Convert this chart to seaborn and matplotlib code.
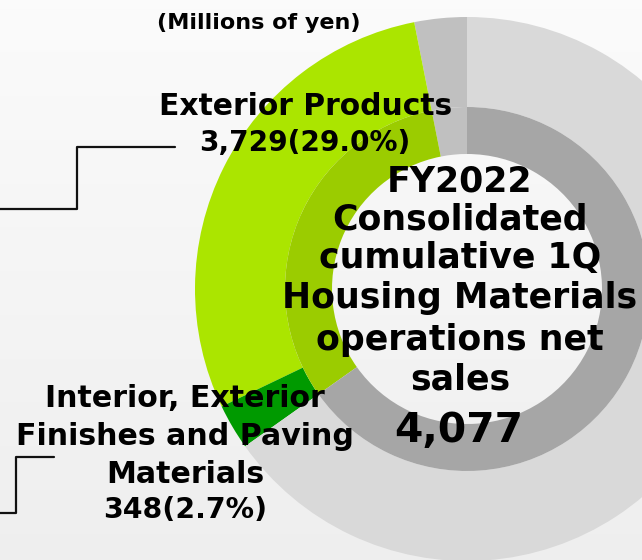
import matplotlib
matplotlib.use("Agg")
import matplotlib.pyplot as plt
import numpy as np
import seaborn as sns

# ---------------- data ----------------
outer_labels = ["Other (top)", "Exterior Products",
                "Interior, Exterior Finishes and Paving Materials", "Other businesses"]
outer_values = [400, 3729, 348, 8382]
outer_colors = ["#c0c0c0", "#abe500", "#009a00", "#d9d9d9"]

inner_labels = ["Other (top)", "Housing Materials", "Other businesses"]
inner_values = [400, 4077, 8382]
inner_colors = ["#c0c0c0", "#9bcc00", "#a6a6a6"]

unit_label = "(Millions of yen)"
ext_label = ["Exterior Products", "3,729(29.0%)"]
int_label = ["Interior, Exterior", "Finishes and Paving", "Materials", "348(2.7%)"]
center_lines = ["FY2022", "Consolidated", "cumulative 1Q", "Housing Materials",
                "operations net", "sales"]
center_value = "4,077"

# ---------------- style ----------------
sns.set_style("white")
FONT = dict(family="DejaVu Sans", fontweight="bold", color="#000000")

W, H = 642, 560
fig = plt.figure(figsize=(W / 100, H / 100), dpi=100)
ax = fig.add_axes([0, 0, 1, 1])
ax.set_xlim(0, W)
ax.set_ylim(0, H)
ax.set_aspect("equal")
ax.axis("off")

# background gradient
grad = np.linspace(0.985, 0.935, 256).reshape(-1, 1)
ax.imshow(np.dstack([grad, grad, grad]), extent=[0, W, 0, H], origin="upper",
          aspect="auto", zorder=0)

def Y(y):  # pixel-from-top -> data
    return H - y

cx, cy = 467, Y(289)
R_out, R_mid, R_in = 272, 182, 135

ax.pie(outer_values, colors=outer_colors, startangle=90, counterclock=True,
       radius=R_out, center=(cx, cy), frame=True,
       wedgeprops=dict(width=R_out - R_mid, linewidth=0, edgecolor="none"))
ax.pie(inner_values, colors=inner_colors, startangle=90, counterclock=True,
       radius=R_mid, center=(cx, cy), frame=True,
       wedgeprops=dict(width=R_mid - R_in, linewidth=0, edgecolor="none"))
ax.set_xlim(0, W)
ax.set_ylim(0, H)
ax.axis("off")

# leader lines
leader1_x = [0, 77, 77, 175]
leader1_y = [Y(209), Y(209), Y(147), Y(147)]
leader2_x = [0, 16, 16, 54]
leader2_y = [Y(513), Y(513), Y(457), Y(457)]
for lx, ly in ((leader1_x, leader1_y), (leader2_x, leader2_y)):
    sns.lineplot(x=lx, y=ly, sort=False, estimator=None, color="#111111",
                 linewidth=1.6, ax=ax, zorder=5)

# texts
ax.text(259, Y(29), unit_label, ha="center", va="baseline", fontsize=16, zorder=6, **FONT)
ax.text(306, Y(115), ext_label[0], ha="center", va="baseline", fontsize=21.4, zorder=6, **FONT)
ax.text(305, Y(151), ext_label[1], ha="center", va="baseline", fontsize=20.2, zorder=6, **FONT)

for txt, yb, fs in zip(int_label, [407, 445, 483, 518], [21.6, 21.6, 21.6, 20.4]):
    ax.text(185, Y(yb), txt, ha="center", va="baseline", fontsize=fs, zorder=6, **FONT)

for txt, yb in zip(center_lines, [192, 229, 268, 308, 350, 390]):
    ax.text(460, Y(yb), txt, ha="center", va="baseline", fontsize=25.0, zorder=6, **FONT)
ax.text(459, Y(442), center_value, ha="center", va="baseline", fontsize=29.3, zorder=6, **FONT)

fig.savefig("out.png", dpi=100)
